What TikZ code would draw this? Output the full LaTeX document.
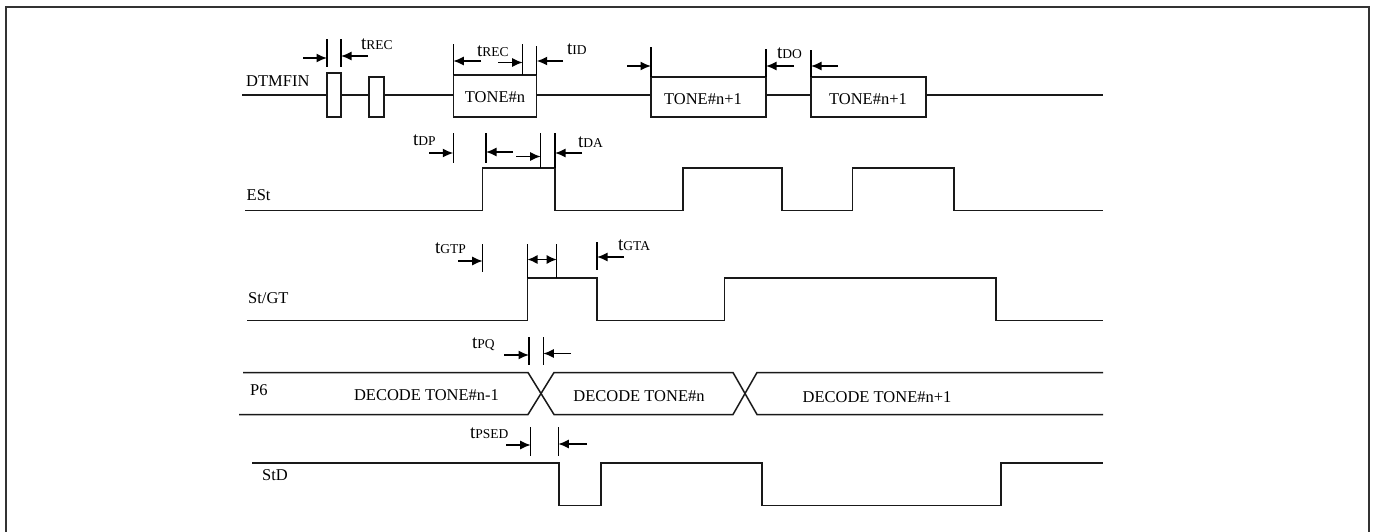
\documentclass[tikz,border=0pt]{standalone}
\usepackage{fontspec}
\setmainfont{Liberation Serif}
\usetikzlibrary{arrows.meta}
\newcommand\mytlab[1]{{\fontsize{19}{19}\selectfont t}{\fontsize{13.5}{13.5}\selectfont #1}}
\begin{document}
\begin{tikzpicture}[x=1pt,y=-1pt,
  sig/.style={line width=1.5pt, draw=black!90, line join=miter},
  tick/.style={line width=1.4pt, draw=black},
  arr/.style={line width=1.4pt,-{Latex[length=10.5pt,width=9pt]}},
  darr/.style={line width=1.4pt,{Latex[length=10pt,width=9pt]}-{Latex[length=10pt,width=9pt]}},
  lab/.style={font=\fontsize{16.5}{16.5}\selectfont, inner sep=0pt, anchor=base west},
  boxlab/.style={font=\fontsize{16.5}{16.5}\selectfont, inner sep=0pt, anchor=base},
  tl/.style={inner sep=0pt, anchor=base west}]
\useasboundingbox (0,0) rectangle (1374,531);
\draw[line width=2pt, black!80] (6,7) rectangle (1369,545);

% signal names
\node[lab] (nDTMF) at (246,86) {DTMFIN};
\node[lab] (nESt) at (246.5,200) {ESt};
\node[lab] (nStGT) at (248,303) {St/GT};
\node[lab] (nP6) at (250,395) {P6};
\node[lab] (nStD) at (262,480) {StD};

% DTMFIN
\draw[sig] (242,95) -- (327,95);
\draw[sig] (341,95) -- (369,95);
\draw[sig] (384,95) -- (453.3,95);
\draw[sig] (536.7,95) -- (651,95);
\draw[sig] (766,95) -- (811,95);
\draw[sig] (926,95) -- (1103,95);
\draw[sig] (327,73) rectangle (341,117);
\draw[sig] (369,77) rectangle (384,117);
\draw[sig] (453.3,75) rectangle (536.7,117);
\draw[sig] (651,77) rectangle (766,117);
\draw[sig] (811,77) rectangle (926,117);
\node[boxlab] (tn) at (495,102.7) {TONE\#n};
\node[boxlab] (tn1) at (703,104) {TONE\#n+1};
\node[boxlab] (tn2) at (868,104) {TONE\#n+1};

\draw[tick] (327,39) -- (327,67);
\draw[tick] (341,39) -- (341,67);
\draw[arr] (303,58) -- (327,58);
\draw[arr] (368,56) -- (341,56);
\node[tl] (lrec1) at (361,49) {\mytlab{REC}};

\draw[tick] (453.3,44) -- (453.3,75);
\draw[tick] (522.7,44) -- (522.7,75);
\draw[tick] (536.7,46) -- (536.7,75);
\draw[arr] (481,61) -- (453.3,61);
\draw[arr] (498,62.5) -- (522.7,62.5);
\draw[arr] (563,61) -- (536.7,61);
\node[tl] (lrec2) at (477,56) {\mytlab{REC}};
\node[tl] (lid) at (567,54) {\mytlab{ID}};

\draw[tick] (651,47) -- (651,77);
\draw[arr] (627,66) -- (651,66);
\draw[tick] (766,49) -- (766,77);
\draw[arr] (794,66) -- (766,66);
\draw[tick] (811,50) -- (811,77);
\draw[arr] (838,66) -- (811,66);
\node[tl] (ldo) at (777,58) {\mytlab{DO}};

% ESt
\draw[sig] (245,210.5) -- (482.5,210.5) -- (482.5,168) -- (555,168) -- (555,210.5)
  -- (683,210.5) -- (683,168) -- (782,168) -- (782,210.5) -- (852.5,210.5)
  -- (852.5,168) -- (954,168) -- (954,210.5) -- (1103,210.5);
\draw[tick] (453.3,133) -- (453.3,163);
\draw[tick] (486,133) -- (486,163);
\draw[tick] (540.7,133) -- (540.7,168);
\draw[tick] (555,133) -- (555,168);
\draw[arr] (429,153) -- (453.3,153);
\draw[arr] (513,152) -- (486,152);
\draw[arr] (516,156.5) -- (540.7,156.5);
\draw[arr] (582,153) -- (555,153);
\node[tl] (ldp) at (413,145) {\mytlab{DP}};
\node[tl] (lda) at (578,147) {\mytlab{DA}};

% St/GT
\draw[sig] (247,320.5) -- (527.5,320.5) -- (527.5,278) -- (597,278) -- (597,320.5)
  -- (724.5,320.5) -- (724.5,278) -- (996,278) -- (996,320.5) -- (1103,320.5);
\draw[tick] (482.7,244) -- (482.7,272);
\draw[tick] (527.5,244) -- (527.5,278);
\draw[tick] (556.7,244) -- (556.7,278);
\draw[tick] (597,242) -- (597,270);
\draw[arr] (458,261) -- (482.7,261);
\draw[darr] (527.5,259.5) -- (556.7,259.5);
\draw[arr] (624,257) -- (597,257);
\node[tl] (lgtp) at (435,253) {\mytlab{GTP}};
\node[tl] (lgta) at (618,250) {\mytlab{GTA}};

% P6
\draw[sig] (243,372.5) -- (528,372.5) -- (554,414.5) -- (733,414.5) -- (757,372.5) -- (1103,372.5);
\draw[sig] (239,414.5) -- (528,414.5) -- (554,372.5) -- (733,372.5) -- (757,414.5) -- (1103,414.5);
\node[boxlab] (d1) at (426.5,400) {DECODE TONE\#n-1};
\node[boxlab] (d2) at (639,401.7) {DECODE TONE\#n};
\node[boxlab] (d3) at (877,402) {DECODE TONE\#n+1};
\draw[tick] (529,337) -- (529,365);
\draw[tick] (543.3,337) -- (543.3,365);
\draw[arr] (504,355) -- (529,355);
\draw[arr] (571,353.5) -- (543.3,353.5);
\node[tl] (lpq) at (472,348) {\mytlab{PQ}};

% StD
\draw[sig] (252,463) -- (559,463) -- (559,505.5) -- (601,505.5) -- (601,463)
  -- (762,463) -- (762,505.5) -- (1001,505.5) -- (1001,463) -- (1103,463);
\draw[tick] (530.7,427) -- (530.7,456);
\draw[tick] (558.3,427) -- (558.3,456);
\draw[arr] (506,445) -- (530.7,445);
\draw[arr] (587,444) -- (558.3,444);
\node[tl] (lpsed) at (470,438) {\mytlab{PSED}};
\end{tikzpicture}
\end{document}
